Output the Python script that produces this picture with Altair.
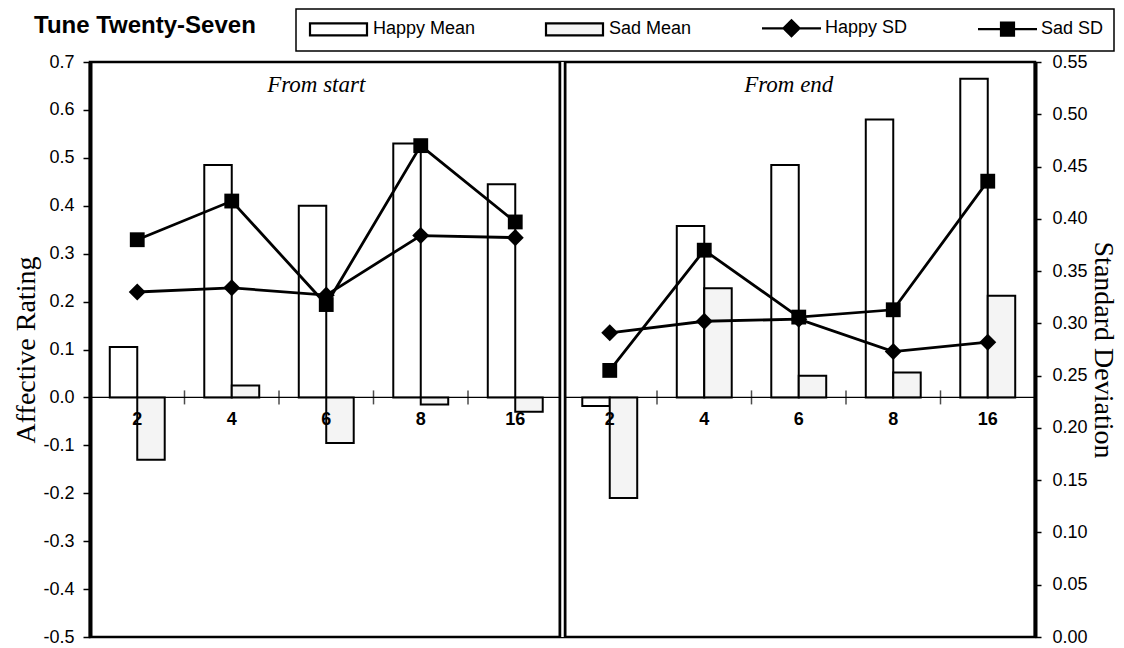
import altair as alt
import pandas as pd

# ---- data -------------------------------------------------------------
categories = ["2", "4", "6", "8", "16"]
panels = ["From start", "From end"]

happy_mean_start = [0.105, 0.485, 0.400, 0.530, 0.445]
sad_mean_start = [-0.130, 0.025, -0.095, -0.015, -0.030]
happy_sd_start = [0.330, 0.334, 0.327, 0.384, 0.382]
sad_sd_start = [0.380, 0.417, 0.318, 0.470, 0.397]

happy_mean_end = [-0.018, 0.358, 0.485, 0.580, 0.665]
sad_mean_end = [-0.210, 0.228, 0.045, 0.052, 0.212]
happy_sd_end = [0.291, 0.302, 0.304, 0.273, 0.282]
sad_sd_end = [0.255, 0.370, 0.306, 0.313, 0.436]

series_names = ["Happy Mean", "Sad Mean", "Happy SD", "Sad SD"]
left_ticks = [-0.5, -0.4, -0.3, -0.2, -0.1, 0.0, 0.1, 0.2, 0.3, 0.4, 0.5, 0.6, 0.7]
right_ticks = [0.0, 0.05, 0.10, 0.15, 0.20, 0.25, 0.30, 0.35, 0.40, 0.45, 0.50, 0.55]

values = {
    "From start": (happy_mean_start, sad_mean_start, happy_sd_start, sad_sd_start),
    "From end": (happy_mean_end, sad_mean_end, happy_sd_end, sad_sd_end),
}

slot_rows, bar_rows, sd_rows = [], [], []
idx = 0
for panel in panels:
    hm, sm, hs, ss = values[panel]
    for i, cat in enumerate(categories):
        slot = f"{panel}:{cat}"
        slot_rows.append({"slot": slot, "cat": cat, "panel": panel, "first": i == 0})
        bar_rows.append({"slot": slot, "series": "Happy Mean", "mean": hm[i]})
        bar_rows.append({"slot": slot, "series": "Sad Mean", "mean": sm[i]})
        sd_rows.append({"slot": slot, "panel": panel, "series": "Happy SD", "sd": hs[i], "idx": idx})
        sd_rows.append({"slot": slot, "panel": panel, "series": "Sad SD", "sd": ss[i], "idx": idx})
        idx += 1

slot_df = pd.DataFrame(slot_rows)
bar_df = pd.DataFrame(bar_rows)
sd_df = pd.DataFrame(sd_rows)
slot_order = list(slot_df["slot"])
panel_df = pd.DataFrame({"panel": panels, "slot": [f"{p}:{categories[2]}" for p in panels]})
divider_df = pd.DataFrame({"slot": [f"{panels[1]}:{categories[0]}"]})
legend_df = pd.DataFrame({"series": series_names})

# ---- scales & axes ----------------------------------------------------
SANS = "Liberation Sans"
SERIF = "Liberation Serif"
HYPHEN_LABEL = "replace(datum.label, '\u2212', '-')"

x_scale = alt.Scale(domain=slot_order, paddingInner=0, paddingOuter=0)
off_scale = alt.Scale(domain=["Happy Mean", "Sad Mean"], paddingInner=0, paddingOuter=0.72)


def y_left():
    return alt.Scale(domain=[-0.5, 0.7], nice=False, zero=False)


def y_right():
    return alt.Scale(domain=[0, 0.55], nice=False, zero=False)


X = alt.X("slot:N", scale=x_scale, axis=None)
X_edge = alt.X("slot:N", scale=x_scale, axis=None, bandPosition=0)

left_axis = alt.Axis(
    orient="left", values=left_ticks, format=".1f", labelExpr=HYPHEN_LABEL,
    title="Affective Rating",
    titleFont=SERIF, titleFontSize=28, titleFontWeight="normal", titlePadding=2,
    titleColor="black", labelFont=SANS, labelFontSize=18, labelColor="black",
    labelPadding=9, tickSize=7, tickWidth=1.5, tickColor="black",
    domainWidth=4, domainColor="black", grid=False,
)
right_axis = alt.Axis(
    orient="right", values=right_ticks, format=".2f", title="Standard Deviation",
    titleFont=SERIF, titleFontSize=28, titleFontWeight="normal", titlePadding=1,
    titleColor="black", labelFont=SANS, labelFontSize=18, labelColor="black",
    labelPadding=11, tickSize=6, tickWidth=1.5, tickColor="black",
    domainWidth=4, domainColor="black", grid=False,
)

# ---- mean bars and panel furniture (left scale) -----------------------
bars = alt.Chart(bar_df).mark_bar(stroke="black", strokeWidth=2).encode(
    x=X,
    xOffset=alt.XOffset("series:N", scale=off_scale),
    y=alt.Y("mean:Q", scale=y_left(), axis=left_axis),
    fill=alt.condition("datum.series == 'Happy Mean'", alt.value("white"), alt.value("#f4f4f4")),
)

zero_line = alt.Chart(pd.DataFrame({"level": [0.0]})).mark_rule(
    color="black", strokeWidth=1.2
).encode(y=alt.Y("level:Q", scale=y_left(), axis=None))

boundary_ticks = alt.Chart(slot_df).transform_filter("!datum.first").mark_tick(
    orient="vertical", size=14, thickness=1.5, color="black"
).encode(x=X_edge, y=alt.YDatum(0, scale=y_left(), axis=None))

cat_labels = alt.Chart(slot_df).mark_text(
    baseline="top", dy=14, font=SANS, fontSize=18, fontWeight="bold", color="black"
).encode(x=X, y=alt.YDatum(0, scale=y_left(), axis=None), text="cat:N")

panel_titles = alt.Chart(panel_df).mark_text(
    baseline="top", dy=12, dx=-10, font=SERIF, fontStyle="italic", fontSize=23, color="black"
).encode(x=X, y=alt.YDatum(0.7, scale=y_left(), axis=None), text="panel:N")

divider_outer = alt.Chart(divider_df).mark_rule(color="black", strokeWidth=8).encode(x=X_edge)
divider_inner = alt.Chart(divider_df).mark_rule(color="white", strokeWidth=2.5).encode(x=X_edge)

# ---- standard deviation lines (right scale) ---------------------------
sd_lines = alt.Chart(sd_df).mark_line(color="black", strokeWidth=2.8).encode(
    x=X,
    y=alt.Y("sd:Q", scale=y_right(), axis=right_axis),
    detail=["panel:N", "series:N"],
    order=alt.Order("idx:Q"),
)
diamonds = alt.Chart(sd_df).transform_filter("datum.series == 'Happy SD'").mark_point(
    shape="diamond", filled=True, size=290, color="black", opacity=1
).encode(x=X, y=alt.Y("sd:Q", scale=y_right(), axis=None))
squares = alt.Chart(sd_df).transform_filter("datum.series == 'Sad SD'").mark_point(
    shape="square", filled=True, size=220, color="black", opacity=1
).encode(x=X, y=alt.Y("sd:Q", scale=y_right(), axis=None))

# ---- legend (bar boxes and line-with-marker keys) ---------------------
legend_shapes = [
    "M-1,-1.2H10.4V1.2H-1Z",
    "M-1,-1.2H10.4V1.2H-1Z",
    "M-1,0H10.8M4.9,-1.6L6.5,0L4.9,1.6L3.3,0Z",
    "M-1,0H10.8M3.6,-1.3H6.2V1.3H3.6Z",
]
legend_fills = ["white", "#f4f4f4", "black", "black"]
legend_strokes = ["black", "black", "black", "black"]
key = alt.Legend(
    title=None, orient="none", legendX=206, legendY=-53, direction="horizontal",
    columns=4, columnPadding=65, padding=10, gridAlign="each",
    strokeColor="black", fillColor="white",
    symbolSize=100, symbolStrokeWidth=2.2, symbolOpacity=1,
    labelFont=SANS, labelFontSize=18, labelColor="black", labelOffset=49, labelLimit=300,
)
legend_layer = alt.Chart(legend_df).mark_point(opacity=0).encode(
    shape=alt.Shape("series:N", scale=alt.Scale(domain=series_names, range=legend_shapes), legend=key),
    fill=alt.Fill("series:N", scale=alt.Scale(domain=series_names, range=legend_fills), legend=key),
    stroke=alt.Stroke("series:N", scale=alt.Scale(domain=series_names, range=legend_strokes), legend=key),
)

chart = (
    alt.layer(
        bars, zero_line, boundary_ticks, cat_labels, panel_titles,
        divider_outer, divider_inner, sd_lines, diamonds, squares, legend_layer,
    )
    .resolve_scale(y="independent")
    .properties(
        width=945,
        height=575,
        padding={"left": 90, "top": 62, "right": 89, "bottom": 11},
        autosize=alt.AutoSizeParams(type="none"),
        title=alt.TitleParams(
            "Tune Twenty-Seven", anchor="start", frame="group", dx=-56, dy=65, offset=16,
            baseline="alphabetic", font=SANS, fontSize=24, fontWeight="bold", color="black",
        ),
    )
    .configure_view(stroke="black", strokeWidth=2.5)
    .configure_legend(strokeWidth=1.5)
)

chart.save("out.html", embed_options={"renderer": "svg", "actions": False})
